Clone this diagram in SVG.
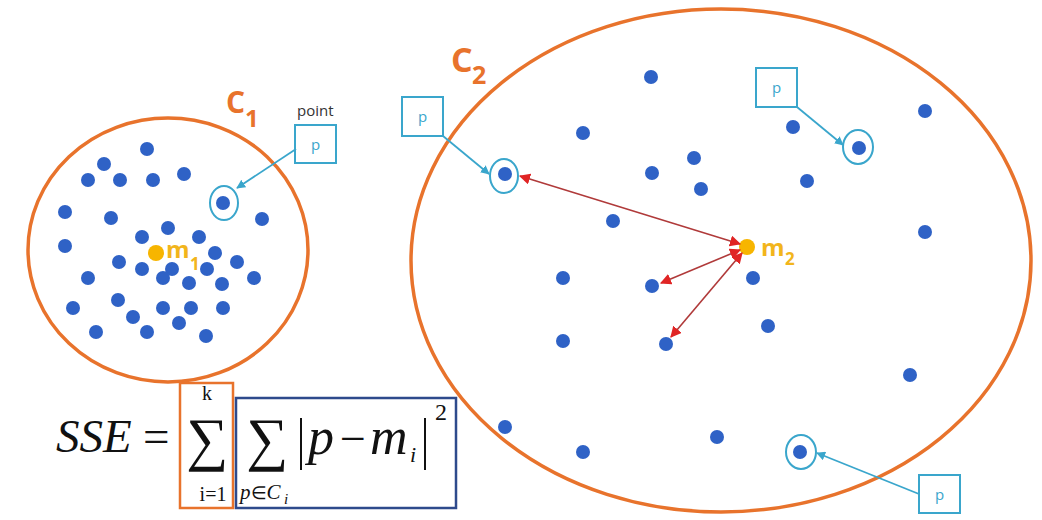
<svg xmlns="http://www.w3.org/2000/svg" width="1042" height="520" viewBox="0 0 1042 520">
<defs>
<style>
.clu{fill:none;stroke:#E8732C;stroke-width:3.5}
.d{fill:#2F62C6}
.hl{fill:none;stroke:#3AA6CC;stroke-width:2}
.pb{fill:#fff;stroke:#3AA6CC;stroke-width:2}
.pt{font-family:"Open Sans","Liberation Sans",sans-serif;font-size:15px;fill:#3AA6CC}
.ca{stroke:#3AA6CC;stroke-width:1.8;fill:none}
.ra{stroke:#B03A3A;stroke-width:1.6;fill:none}
.cl{font-family:"Open Sans","Liberation Sans",sans-serif;font-weight:bold;fill:#E8732C}
.ml{font-family:"Open Sans","Liberation Sans",sans-serif;font-weight:bold;fill:#F2B51C}
.m{fill:#F7B500}
.f{font-family:"Liberation Serif","Times New Roman",serif;fill:#111}
</style>
<marker id="ac" viewBox="0 0 10 10" refX="9" refY="5" markerWidth="5" markerHeight="5" orient="auto" markerUnits="strokeWidth"><path d="M0,0 L10,5 L0,10 z" fill="#3AA6CC"/></marker>
<marker id="ar" viewBox="0 0 10 10" refX="9" refY="5" markerWidth="7" markerHeight="7" orient="auto-start-reverse" markerUnits="strokeWidth"><path d="M0,0 L10,5 L0,10 z" fill="#E02424"/></marker>
</defs>
<rect width="1042" height="520" fill="#fff"/>

<g id="cluster1">
<ellipse class="clu" cx="168" cy="250" rx="140" ry="132"/>
<text class="cl" x="226" y="113" font-size="30">C</text>
<text class="cl" x="245" y="127" font-size="24">1</text>
<g class="d">
<circle cx="147" cy="149" r="7"/><circle cx="104" cy="164" r="7"/><circle cx="88" cy="180" r="7"/><circle cx="120" cy="180" r="7"/>
<circle cx="153" cy="180" r="7"/><circle cx="184" cy="174" r="7"/><circle cx="65" cy="212" r="7"/><circle cx="111" cy="218" r="7"/>
<circle cx="262" cy="219" r="7"/><circle cx="168" cy="228" r="7"/><circle cx="142" cy="237" r="7"/><circle cx="199" cy="237" r="7"/>
<circle cx="65" cy="246" r="7"/><circle cx="119" cy="262" r="7"/><circle cx="142" cy="269" r="7"/><circle cx="172" cy="269" r="7"/>
<circle cx="163" cy="278" r="7"/><circle cx="207" cy="269" r="7"/><circle cx="215" cy="253" r="7"/><circle cx="237" cy="262" r="7"/>
<circle cx="254" cy="278" r="7"/><circle cx="88" cy="278" r="7"/><circle cx="189" cy="283" r="7"/><circle cx="222" cy="284" r="7"/>
<circle cx="118" cy="300" r="7"/><circle cx="163" cy="308" r="7"/><circle cx="191" cy="308" r="7"/><circle cx="223" cy="308" r="7"/>
<circle cx="73" cy="308" r="7"/><circle cx="133" cy="317" r="7"/><circle cx="179" cy="323" r="7"/><circle cx="96" cy="332" r="7"/>
<circle cx="147" cy="332" r="7"/><circle cx="206" cy="336" r="7"/>
</g>
<circle class="m" cx="156" cy="253" r="8"/>
<text class="ml" x="166" y="258" font-size="24">m</text>
<text class="ml" x="190" y="270" font-size="17">1</text>
</g>

<g id="p1">
<circle class="d" cx="223" cy="203" r="7"/>
<ellipse class="hl" cx="224" cy="203" rx="14" ry="17"/>
<text x="297" y="116" font-family="'Open Sans','Liberation Sans',sans-serif" font-size="15" fill="#333">point</text>
<rect class="pb" x="295" y="125" width="41" height="38"/>
<text class="pt" x="315.5" y="150" text-anchor="middle">p</text>
</g>

<g id="cluster2">
<ellipse class="clu" cx="721" cy="260.5" rx="310" ry="251.5"/>
<text class="cl" x="451" y="72" font-size="34">C</text>
<text class="cl" x="472" y="84" font-size="25">2</text>
<g class="d">
<circle cx="651" cy="77" r="7"/><circle cx="583" cy="133" r="7"/><circle cx="694" cy="158" r="7"/><circle cx="652" cy="173" r="7"/>
<circle cx="701" cy="189" r="7"/><circle cx="613" cy="221" r="7"/><circle cx="793" cy="127" r="7"/><circle cx="807" cy="181" r="7"/>
<circle cx="925" cy="111" r="7"/><circle cx="925" cy="232" r="7"/><circle cx="563" cy="278" r="7"/><circle cx="652" cy="286" r="7"/>
<circle cx="753" cy="278" r="7"/><circle cx="768" cy="326" r="7"/><circle cx="563" cy="341" r="7"/><circle cx="666" cy="344" r="7"/>
<circle cx="910" cy="375" r="7"/><circle cx="505" cy="427" r="7"/><circle cx="583" cy="452" r="7"/><circle cx="717" cy="437" r="7"/>
</g>
<circle class="m" cx="747" cy="247" r="8"/>
<text class="ml" x="761" y="256" font-size="24">m</text>
<text class="ml" x="785" y="265" font-size="17">2</text>
</g>

<g id="p2">
<circle class="d" cx="505" cy="174" r="7"/>
<ellipse class="hl" cx="504" cy="176" rx="14" ry="17"/>
<rect class="pb" x="402" y="97" width="41" height="39"/>
<text class="pt" x="422.5" y="122" text-anchor="middle">p</text>
</g>
<g id="p3">
<circle class="d" cx="859" cy="148" r="7"/>
<ellipse class="hl" cx="858" cy="147" rx="15" ry="17"/>
<rect class="pb" x="756" y="68" width="41" height="39"/>
<text class="pt" x="776.5" y="93" text-anchor="middle">p</text>
</g>
<g id="p4">
<circle class="d" cx="800" cy="452" r="7"/>
<ellipse class="hl" cx="801" cy="452" rx="15" ry="17"/>
<rect class="pb" x="919" y="475" width="41" height="38"/>
<text class="pt" x="939.5" y="500" text-anchor="middle">p</text>
</g>

<g id="connectors">
<line class="ca" x1="296" y1="149" x2="237" y2="188" marker-end="url(#ac)"/>
<line class="ca" x1="443" y1="136" x2="489" y2="174" marker-end="url(#ac)"/>
<line class="ca" x1="797" y1="107" x2="843" y2="145" marker-end="url(#ac)"/>
<line class="ca" x1="919" y1="494" x2="817" y2="453" marker-end="url(#ac)"/>
<line class="ra" x1="520" y1="176" x2="740" y2="244" marker-start="url(#ar)" marker-end="url(#ar)"/>
<line class="ra" x1="661" y1="283" x2="740" y2="250" marker-start="url(#ar)" marker-end="url(#ar)"/>
<line class="ra" x1="671" y1="337" x2="742" y2="253" marker-start="url(#ar)" marker-end="url(#ar)"/>
</g>

<g id="formula">
<rect x="180" y="383" width="53" height="125" fill="none" stroke="#E8732C" stroke-width="2.5"/>
<rect x="236" y="398" width="220" height="110" fill="none" stroke="#2E4A8C" stroke-width="2.5"/>
<text class="f" x="56" y="452" font-size="47" font-style="italic">SSE</text>
<text class="f" x="143" y="452" font-size="47">=</text>
<text class="f" x="207" y="400" font-size="20" text-anchor="middle">k</text>
<text class="f" x="207" y="459" font-size="59" text-anchor="middle">∑</text>
<text class="f" x="213" y="501" font-size="20" text-anchor="middle">i=1</text>
<text class="f" x="267" y="459" font-size="59" text-anchor="middle">∑</text>
<text class="f" x="240" y="499" font-size="21" font-style="italic">p<tspan font-style="normal" font-size="18">∈</tspan>C</text>
<text class="f" x="284" y="504" font-size="15" font-style="italic">i</text>
<line x1="301" y1="418" x2="301" y2="470" stroke="#111" stroke-width="2"/>
<text class="f" x="308" y="454" font-size="52" font-style="italic">p</text>
<text class="f" x="340" y="454" font-size="46">−</text>
<text class="f" x="370" y="454" font-size="52" font-style="italic">m</text>
<text class="f" x="410" y="462" font-size="22" font-style="italic">i</text>
<line x1="425" y1="418" x2="425" y2="470" stroke="#111" stroke-width="2"/>
<text class="f" x="435" y="420" font-size="24">2</text>
</g>
</svg>
